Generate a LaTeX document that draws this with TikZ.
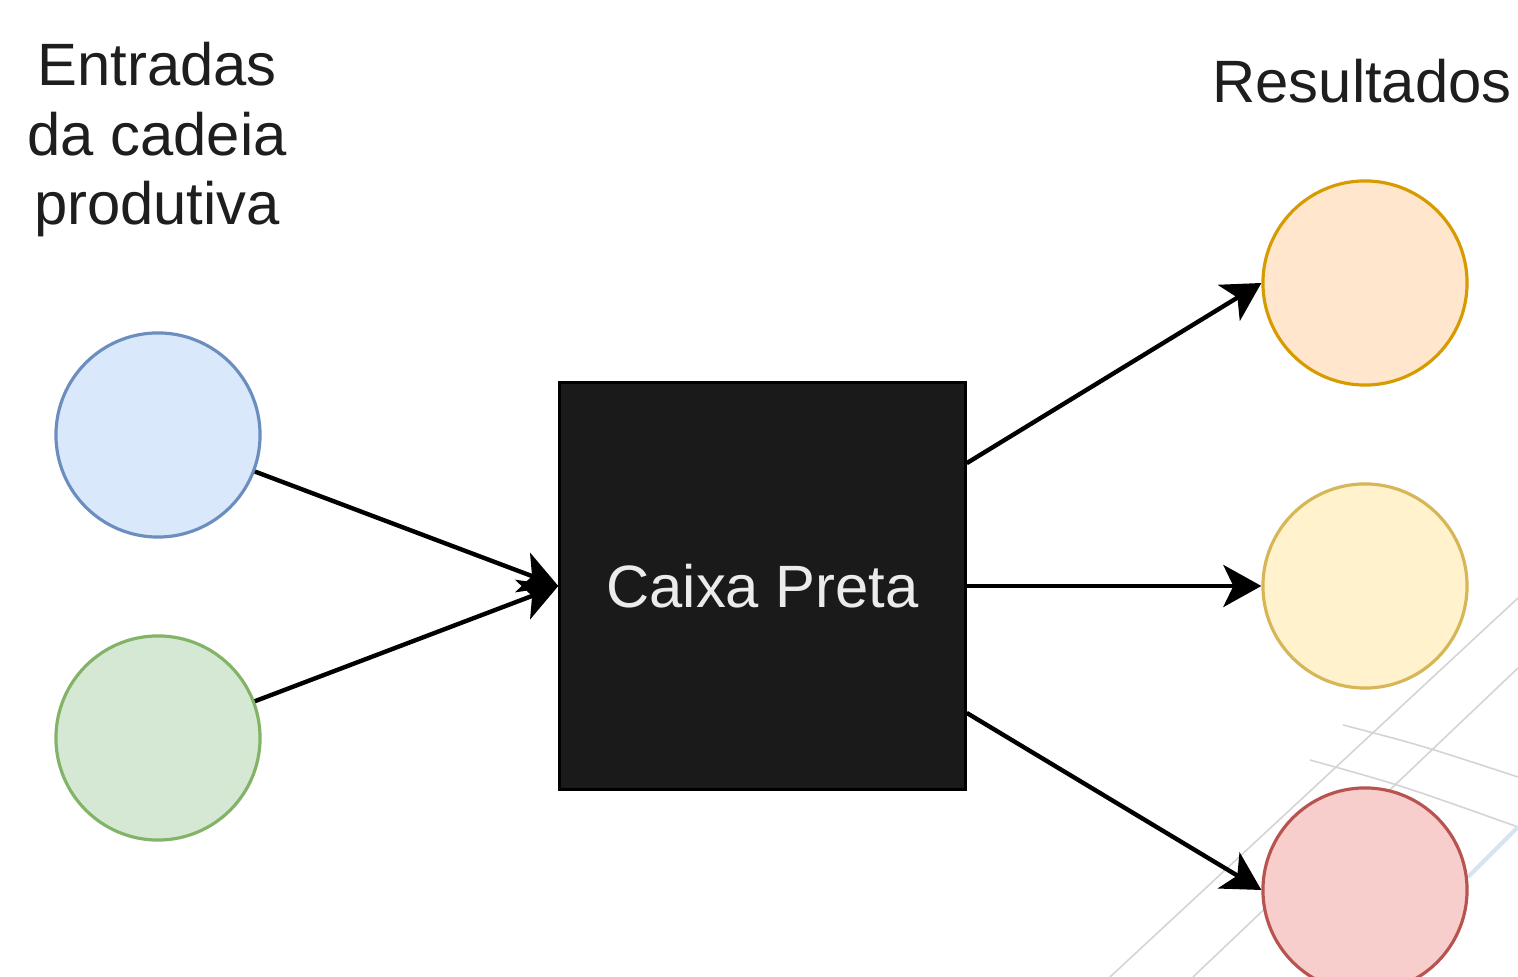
\documentclass[tikz,border=0pt]{standalone}
\usepackage{fontspec}
\setmainfont{Liberation Sans}
\usetikzlibrary{arrows.meta,calc}
\definecolor{bluef}{HTML}{DAE8FC}\definecolor{blued}{HTML}{6C8EBF}
\definecolor{greenf}{HTML}{D5E8D4}\definecolor{greend}{HTML}{82B366}
\definecolor{orangef}{HTML}{FFE6CC}\definecolor{oranged}{HTML}{D79B00}
\definecolor{yellowf}{HTML}{FFF2CC}\definecolor{yellowd}{HTML}{D6B656}
\definecolor{redf}{HTML}{F8CECC}\definecolor{redd}{HTML}{B85450}
\definecolor{boxf}{HTML}{1A1A1A}
\definecolor{txt}{HTML}{1E1E1E}
\definecolor{faint}{HTML}{D4D4D4}
\definecolor{faintblue}{HTML}{D6E4F0}
\begin{document}
\begin{tikzpicture}[x=0.01cm,y=-0.01cm,
  circ/.style={circle,minimum size=2.04cm,inner sep=0pt,line width=0.9pt},
  lbl/.style={font=\fontsize{17}{19.9}\selectfont,text=txt,align=center,inner sep=0pt},
  conn/.style={line width=1.25pt,-{Stealth[length=0.38cm,width=0.42cm,inset=0.1cm]}},
  bgline/.style={faint,line width=0.45pt}]
\useasboundingbox[fill=white] (0,0) rectangle (1518,977);
% faint background lines
\draw[bgline] (1518,598) -- (1110,977);
\draw[bgline] (1518,668) -- (1193,977);
\draw[bgline] (1343,725) .. controls (1420,745) .. (1518,777);
\draw[bgline] (1310,760) .. controls (1400,785) .. (1518,827);
\draw[faintblue,line width=1.2pt] (1518,827) -- (1468,877);
% nodes
\node[circ,fill=bluef,draw=blued] (blue) at (158,435) {};
\node[circ,fill=greenf,draw=greend] (green) at (158,738) {};
\node[draw=black,fill=boxf,line width=0.9pt,minimum width=4.05cm,minimum height=4.06cm,inner sep=0pt,
      font=\fontsize{17}{20}\selectfont,text=white!92!black] (box) at (762.5,586) {Caixa Preta};
\node[circ,fill=orangef,draw=oranged] (orange) at (1365,283) {};
\node[circ,fill=yellowf,draw=yellowd] (yellow) at (1365,586) {};
\node[circ,fill=redf,draw=redd] (red) at (1365,890) {};
\node[lbl,anchor=base] (entr) at (157,225) {Entradas\\da cadeia\\produtiva};
\node[lbl,anchor=base] (res) at (1362,103) {Resultados};
% connectors
\draw[conn] (blue) -- (box.west);
\draw[conn] (green) -- (box.west);
\draw[conn] ($(box.north east)!0.2!(box.south east)$) -- (orange.west);
\draw[conn] (box.east) -- (yellow.west);
\draw[conn] ($(box.north east)!0.81!(box.south east)$) -- (red.west);
\end{tikzpicture}
\end{document}
